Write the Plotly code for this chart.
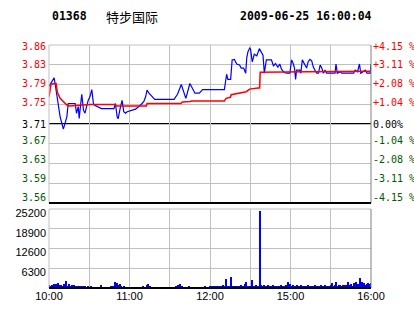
import numpy as np
import plotly.graph_objects as go

# ---------------- data ----------------
code = "01368"
name = "特步国际"
stamp = "2009-06-25 16:00:04"
prev_close = 3.71

# minutes from open (10:00-12:30, 14:30-16:00 => 0..240)
price_min = [0, 1.7, 3.2, 3.8, 4.7, 6.8, 8.3, 10.7, 13.3, 14.3, 19.5, 20.5, 21.8, 22.5, 24.4, 25.7,
             26.8, 28.3, 29.3, 30.5, 31.9, 33.2, 35.8, 39, 48.4, 49.5, 50.8, 51.5, 53.3, 54.5, 55.7,
             57, 58.3, 64.5, 68.3, 70.7, 72, 73.1, 74.5, 78.8, 93.2, 95.8, 98.6, 99.5, 100.9, 102,
             105, 107, 108.8, 112, 114.5, 130.7, 131.6, 132.4, 133.3, 135.4, 136.5, 138.2, 139.9,
             142, 143.3, 145.1, 146.6, 147.4, 148.3, 149.6, 150.2, 151.5, 153, 154.9, 156.8, 158.3,
             159.5, 160.5, 162, 165.8, 167.3, 168.8, 170.6, 172, 173.3, 175.1, 177, 179.5, 180.8,
             182, 183, 183.8, 184.5, 187, 187.7, 188.8, 190.7, 192, 193.1, 194.5, 195.8, 197, 198.2,
             199.5, 200.8, 202.1, 203.3, 204.5, 205.7, 207, 213.2, 213.9, 214.9, 217, 218.3, 227,
             228.2, 230, 231.4, 232.4, 235.7, 237, 239.5, 240]
price = [3.783, 3.792, 3.797, 3.800, 3.786, 3.751, 3.724, 3.700, 3.724, 3.750, 3.750, 3.731, 3.744,
         3.721, 3.768, 3.737, 3.731, 3.747, 3.757, 3.763, 3.777, 3.748, 3.744, 3.740, 3.740, 3.750,
         3.724, 3.720, 3.744, 3.756, 3.734, 3.731, 3.734, 3.739, 3.747, 3.754, 3.763, 3.776, 3.770,
         3.758, 3.758, 3.768, 3.787, 3.780, 3.767, 3.760, 3.789, 3.780, 3.770, 3.770, 3.777, 3.777,
         3.800, 3.807, 3.797, 3.797, 3.835, 3.836, 3.827, 3.825, 3.819, 3.819, 3.809, 3.839, 3.851,
         3.858, 3.856, 3.831, 3.846, 3.843, 3.857, 3.848, 3.844, 3.809, 3.835, 3.835, 3.823, 3.828,
         3.821, 3.827, 3.817, 3.811, 3.809, 3.809, 3.835, 3.828, 3.819, 3.797, 3.815, 3.815, 3.809,
         3.835, 3.826, 3.819, 3.831, 3.836, 3.833, 3.821, 3.815, 3.809, 3.809, 3.825, 3.819, 3.809,
         3.815, 3.809, 3.809, 3.827, 3.809, 3.812, 3.809, 3.809, 3.815, 3.812, 3.827, 3.809, 3.815,
         3.809, 3.809, 3.827]

avg_min = [0, 1.5, 5.3, 6.2, 8.3, 10.7, 13.3, 15.2, 28.3, 30.8, 48.8, 50.6, 72.5, 73.1, 98.3, 99.4,
           105, 106.5, 130.7, 132, 135.2, 135.8, 147, 149.5, 155.8, 157, 157.4, 178.3, 193.1, 240]
avg_price = [3.763, 3.788, 3.789, 3.772, 3.760, 3.753, 3.747, 3.745, 3.747, 3.748, 3.748, 3.745,
             3.745, 3.750, 3.750, 3.753, 3.754, 3.755, 3.755, 3.760, 3.762, 3.767, 3.773, 3.778,
             3.780, 3.780, 3.811, 3.811, 3.812, 3.813]

volume = [
    900, 600, 1000, 700, 1200, 1300, 800, 1500, 900, 1100, 600, 1400, 900, 2200, 700, 1200, 600, 900, 500, 800,
    600, 500, 700, 500, 400, 600, 500, 700, 300, 500, 0, 400, 0, 0, 300, 0, 0, 0, 0, 1000,
    0, 0, 300, 0, 0, 0, 400, 0, 700, 1800, 600, 1700, 900, 1200, 400, 0, 500, 0, 0, 0,
    300, 0, 0, 200, 0, 0, 0, 300, 0, 0, 400, 0, 0, 800, 1200, 500, 0, 0, 300, 0,
    0, 0, 200, 0, 0, 0, 0, 300, 0, 0, 0, 0, 300, 0, 0, 500, 900, 400, 1300, 600,
    0, 300, 0, 0, 400, 0, 0, 300, 0, 0, 0, 0, 300, 0, 0, 0, 400, 0, 0, 0,
    500, 600, 400, 500, 700, 600, 500, 700, 600, 500, 800, 400, 2900, 600, 700, 500, 3500, 600, 700, 500,
    600, 500, 700, 800, 400, 600, 1200, 1900, 600, 500, 700, 2500, 600, 700, 800, 600, 700, 24600, 800, 600,
    900, 700, 600, 1000, 700, 500, 600, 800, 700, 500, 600, 700, 600, 800, 500, 700, 600, 900, 1900, 800,
    1200, 700, 800, 600, 700, 900, 600, 500, 800, 700, 600, 500, 700, 800, 600, 700, 500, 600, 800, 700,
    600, 700, 500, 800, 600, 700, 900, 600, 500, 700, 800, 1600, 600, 900, 1900, 700, 800, 1100, 600, 900,
    700, 1000, 800, 1800, 900, 1200, 700, 1500, 900, 1900, 1400, 1000, 3200, 1800, 1200, 1500, 900, 1200, 1600, 1300,
    1500]
vol_min = list(range(len(volume)))

price_ticks = [3.556, 3.5945, 3.633, 3.6715, 3.71, 3.7485, 3.787, 3.8255, 3.864]
price_labels = ["3.56", "3.59", "3.63", "3.67", "3.71", "3.75", "3.79", "3.83", "3.86"]
pct_labels = ["-4.15 %", "-3.11 %", "-2.08 %", "-1.04 %", "0.00%", "+1.04 %", "+2.08 %", "+3.11 %", "+4.15 %"]
vol_ticks = [6300, 12600, 18900, 25200]
time_ticks = [0, 30, 60, 90, 120, 150, 180, 210, 240]
time_labels = ["10:00", "", "11:00", "", "12:00", "", "15:00", "", "16:00"]

# ---------------- styling ----------------
RED = "#ff0000"
GREEN = "#005a00"
GRID = "#c0c0c0"
prange = [3.556, 3.864]
# label anchors: the original draws labels on a slightly compressed scale
label_pos = list(np.linspace(prange[1] - 0.002, prange[0] + 0.011, 9))[::-1]
label_pos[4] = prev_close


def colored(labels, ticks):
    out = []
    for lab, t in zip(labels, ticks):
        if abs(t - prev_close) < 1e-6:
            c = "#000000"
        elif t > prev_close:
            c = RED
        else:
            c = GREEN
        out.append(f'<span style="color:{c}">{lab}</span>')
    return out


fig = go.Figure()
fig.add_trace(go.Bar(x=vol_min, y=volume, width=0.8, marker=dict(color="#0000ff", line=dict(width=0)),
                     xaxis="x", yaxis="y2", hoverinfo="skip"))
fig.add_trace(go.Scatter(x=price_min, y=price, mode="lines", line=dict(color="#0000ff", width=1.2),
                         xaxis="x2", yaxis="y"))
fig.add_trace(go.Scatter(x=avg_min, y=avg_price, mode="lines", line=dict(color=RED, width=1.5),
                         xaxis="x2", yaxis="y3"))
fig.add_trace(go.Scatter(x=[None], y=[None], mode="lines", xaxis="x2", yaxis="y4",
                         hoverinfo="skip"))

PD = [0.3498, 1.0]
VD = [0.0, 0.3251]

mono = "DejaVu Sans Mono"
lblfont = dict(family=mono, size=10)
fig.update_layout(
    width=414, height=314,
    margin=dict(l=49, r=43, t=45, b=26, autoexpand=False),
    paper_bgcolor="white", plot_bgcolor="white",
    showlegend=False,
    bargap=0,
    xaxis=dict(domain=[0, 1], anchor="y2", range=[0, 240], tickmode="array", tickvals=time_ticks,
               ticktext=time_labels, showgrid=True, gridcolor=GRID, gridwidth=1, zeroline=False,
               showline=False, ticks="", tickfont=dict(family="Liberation Sans", size=11, color="#000"),
               automargin=False, fixedrange=True),
    xaxis2=dict(domain=[0, 1], anchor="y", matches="x", range=[0, 240], tickmode="array",
                tickvals=time_ticks, showticklabels=False, showgrid=True, gridcolor=GRID, zeroline=False,
                showline=False, ticks="", automargin=False),
    yaxis=dict(domain=PD, anchor="x2", range=prange, tickmode="array", tickvals=price_ticks,
               showticklabels=False, showgrid=True, gridcolor=GRID, zeroline=False,
               ticks="", automargin=False),
    yaxis4=dict(overlaying="y", side="left", anchor="x2", range=prange, tickmode="array",
                tickvals=label_pos, ticktext=colored(price_labels, price_ticks), showgrid=False,
                zeroline=False, ticks="", ticklabelstandoff=2, tickfont=lblfont, automargin=False),
    yaxis3=dict(overlaying="y", side="right", anchor="x2", range=prange, tickmode="array",
                tickvals=label_pos, ticktext=colored(pct_labels, price_ticks), showgrid=False,
                zeroline=False, ticks="", ticklabelstandoff=1, tickfont=lblfont,
                automargin=False),
    yaxis2=dict(domain=VD, anchor="x", range=[0, 25200], tickmode="array", tickvals=vol_ticks,
                ticktext=[str(v) for v in vol_ticks], showgrid=True, gridcolor=GRID, zeroline=False,
                ticks="", ticklabelstandoff=2, ticklabelshift=4,
                tickfont=dict(family="Liberation Sans", size=11, color="#000"), automargin=False),
)

shapes = []
for (y0, y1) in (PD, VD):
    shapes.append(dict(type="line", xref="paper", yref="paper", x0=0, x1=1, y0=y1, y1=y1,
                       line=dict(color=GRID, width=1)))
    shapes.append(dict(type="line", xref="paper", yref="paper", x0=0, x1=0, y0=y0, y1=y1,
                       line=dict(color=GRID, width=1)))
    shapes.append(dict(type="line", xref="paper", yref="paper", x0=1, x1=1, y0=y0, y1=y1,
                       line=dict(color="#808080", width=1)))
    shapes.append(dict(type="line", xref="paper", yref="paper", x0=0, x1=1, y0=y0, y1=y0,
                       line=dict(color="#000000", width=2)))
shapes.append(dict(type="line", xref="paper", yref="y", x0=0, x1=1, y0=prev_close, y1=prev_close,
                   line=dict(color="#000000", width=2), layer="below"))
fig.update_layout(shapes=shapes)

title_font = dict(family="DejaVu Sans Mono", size=11.5, color="#000")
fig.add_annotation(text=f"<b>{code}</b>", xref="paper", yref="paper", x=(50 - 49) / 322, y=1,
                   yshift=29, xanchor="left", yanchor="middle", showarrow=False, font=title_font)
fig.add_annotation(text=name, xref="paper", yref="paper", x=(104 - 49) / 322, y=1, yshift=29,
                   xanchor="left", yanchor="middle", showarrow=False,
                   font=dict(family="Noto Sans CJK SC", size=13, color="#000"))
fig.add_annotation(text=f"<b>{stamp}</b>", xref="paper", yref="paper", x=(238 - 49) / 322, y=1,
                   yshift=29, xanchor="left", yanchor="middle", showarrow=False, font=title_font)

fig.write_html("out.html")
